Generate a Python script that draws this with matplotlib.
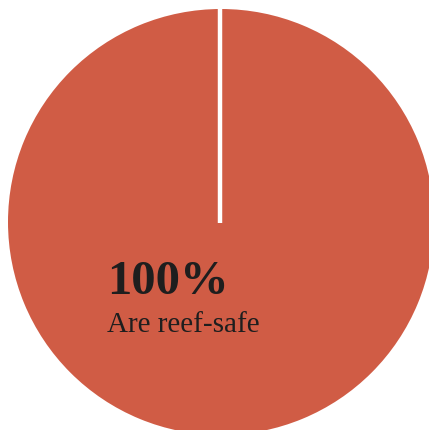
import matplotlib.pyplot as plt

values = [100]
labels = ["Are reef-safe"]
share_text = "100%"
color = "#d05c45"

W, H = 429, 431
fig = plt.figure(figsize=(W / 100, H / 100), dpi=100)

# circle centre around (221, 223) px from top-left, radius ~213 px
cx, cy, r = 221, 223, 213
ax = fig.add_axes([(cx - r) / W, (H - cy - r) / H, 2 * r / W, 2 * r / H])
ax.pie(values, colors=[color], startangle=90, counterclock=False, radius=1,
       wedgeprops=dict(edgecolor="none"))
# a full wedge has no radial edge, so draw the start line by hand
ax.plot([-0.005, -0.005], [-0.005, 1.01], color="white", lw=3.2,
        solid_capstyle="butt")
ax.set_xlim(-1, 1)
ax.set_ylim(-1, 1)
ax.set_aspect("equal")
ax.axis("off")

fig.text(107 / W, 1 - 294 / H, share_text, fontsize=35, fontweight="bold",
         family="Liberation Serif", color="#1e1e1e", va="baseline")
fig.text(107 / W, 1 - 332 / H, labels[0], fontsize=21,
         family="Liberation Serif", color="#1e1e1e", va="baseline")

fig.savefig("out.png", dpi=100)
